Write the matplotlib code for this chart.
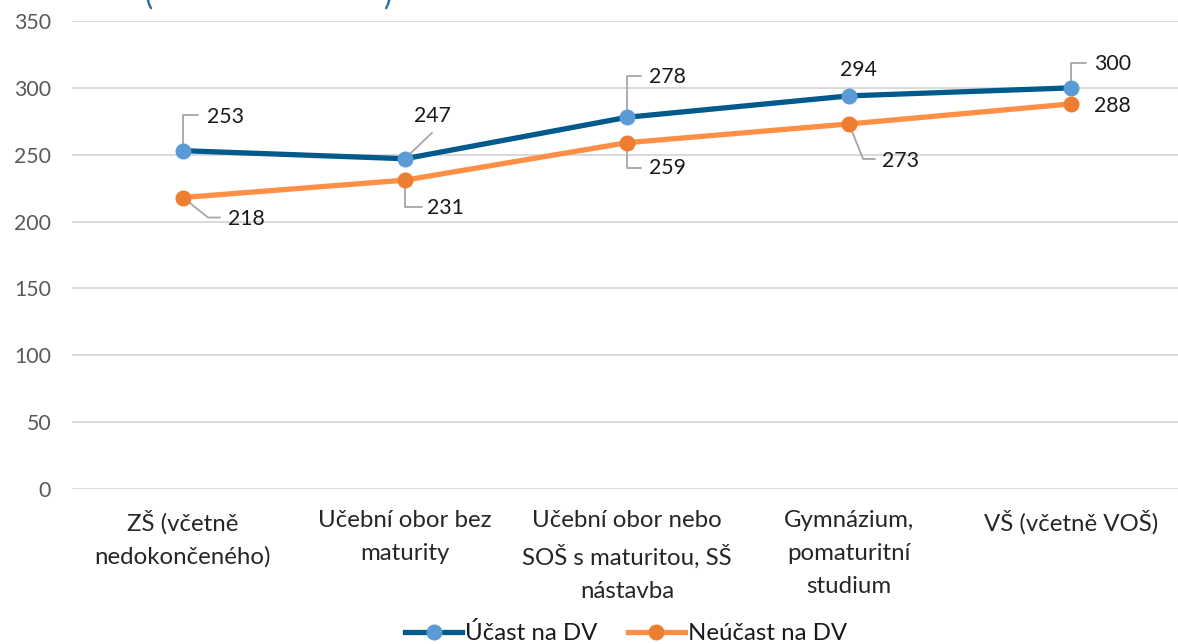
import matplotlib
matplotlib.use("Agg")
import matplotlib.pyplot as plt

categories = [
    "ZŠ (včetně\nnedokončeného)",
    "Učební obor bez\nmaturity",
    "Učební obor nebo\nSOŠ s maturitou, SŠ\nnástavba",
    "Gymnázium,\npomaturitní\nstudium",
    "VŠ (včetně VOŠ)",
]
ucast = [253, 247, 278, 294, 300]
neucast = [218, 231, 259, 273, 288]
y_ticks = [0, 50, 100, 150, 200, 250, 300, 350]

BLUE_LINE = "#005a8c"
BLUE_MARK = "#5b9bd5"
ORANGE_LINE = "#ff8f45"
ORANGE_MARK = "#ed7d31"
LEADER = "#a6a6a6"

plt.rcParams["font.family"] = ["Lato", "DejaVu Sans"]
FS_NUM = 15.3
FS_CAT = 17.3

fig = plt.figure(figsize=(11.78, 6.44), dpi=100)
ax = fig.add_axes([72 / 1178, 1 - 489 / 644, 1110 / 1178, 468 / 644])

x = list(range(len(categories)))
ax.plot(x, ucast, color=BLUE_LINE, lw=3.8, marker="o", ms=10.5,
        mfc=BLUE_MARK, mec=BLUE_MARK, label="Účast na DV", zorder=3)
ax.plot(x, neucast, color=ORANGE_LINE, lw=3.8, marker="o", ms=10.5,
        mfc=ORANGE_MARK, mec=ORANGE_MARK, label="Neúčast na DV", zorder=3)

ax.set_xlim(-0.5, 4.5)
ax.set_ylim(0, 350)
ax.set_yticks(y_ticks)
ax.set_xticks(x)
ax.set_xticklabels(categories, fontsize=FS_CAT, color="#262626", linespacing=1.7)
ax.tick_params(axis="y", labelsize=FS_NUM, colors="#595959", length=0, pad=15)
ax.tick_params(axis="x", length=0, pad=15)
ax.grid(axis="y", color="#d9d9d9", lw=1.4)
ax.set_axisbelow(True)
for s in ax.spines.values():
    s.set_visible(False)

# (text offset px, text ha, leader end px, leader connection)
labels_u = [
    ((24, 34), "left", (15, 36), "angle,angleA=0,angleB=90,rad=0"),
    ((27, 43), "center", (27, 26), "arc3,rad=0"),
    ((22, 40), "left", (14, 41), "angle,angleA=0,angleB=90,rad=0"),
    ((9, 26), "center", None, None),
    ((23, 24), "left", (15, 25), "angle,angleA=0,angleB=90,rad=0"),
]
labels_n = [
    ((45, -21), "left", (37, -20), "angle,angleA=0,angleB=-38.7,rad=0"),
    ((22, -28), "left", (17, -27), "angle,angleA=0,angleB=90,rad=0"),
    ((22, -25), "left", (14, -25), "angle,angleA=0,angleB=90,rad=0"),
    ((33, -37), "left", (26, -35), "angle,angleA=0,angleB=-68,rad=0"),
    ((23, -2), "left", None, None),
]

for series, specs in ((ucast, labels_u), (neucast, labels_n)):
    for i, (v, (toff, ha, lend, conn)) in enumerate(zip(series, specs)):
        ax.annotate(str(v), xy=(i, v), xytext=toff, textcoords="offset pixels",
                    ha=ha, va="center", fontsize=FS_NUM, color="#1a1a1a", zorder=4)
        if lend is not None:
            ax.annotate("", xy=(i, v), xytext=lend, textcoords="offset pixels",
                        arrowprops=dict(arrowstyle="-", color=LEADER, lw=1.3,
                                        shrinkA=0, shrinkB=4, connectionstyle=conn),
                        zorder=2)

fig.legend(loc="center", bbox_to_anchor=(626 / 1178, 1 - 633 / 644), ncol=2,
           frameon=False, fontsize=FS_CAT, handlelength=2.35, handletextpad=0.12,
           columnspacing=1.3, labelcolor="#1a1a1a", borderpad=0)

# title cut off at the top edge, only the brackets are visible
fig.text(145 / 1178, 1 - 9 / 644, "(", color="#1f6fa8", fontsize=22, va="bottom")
fig.text(383 / 1178, 1 - 9 / 644, ")", color="#1f6fa8", fontsize=22, va="bottom")

fig.savefig("out.png", dpi=100)
